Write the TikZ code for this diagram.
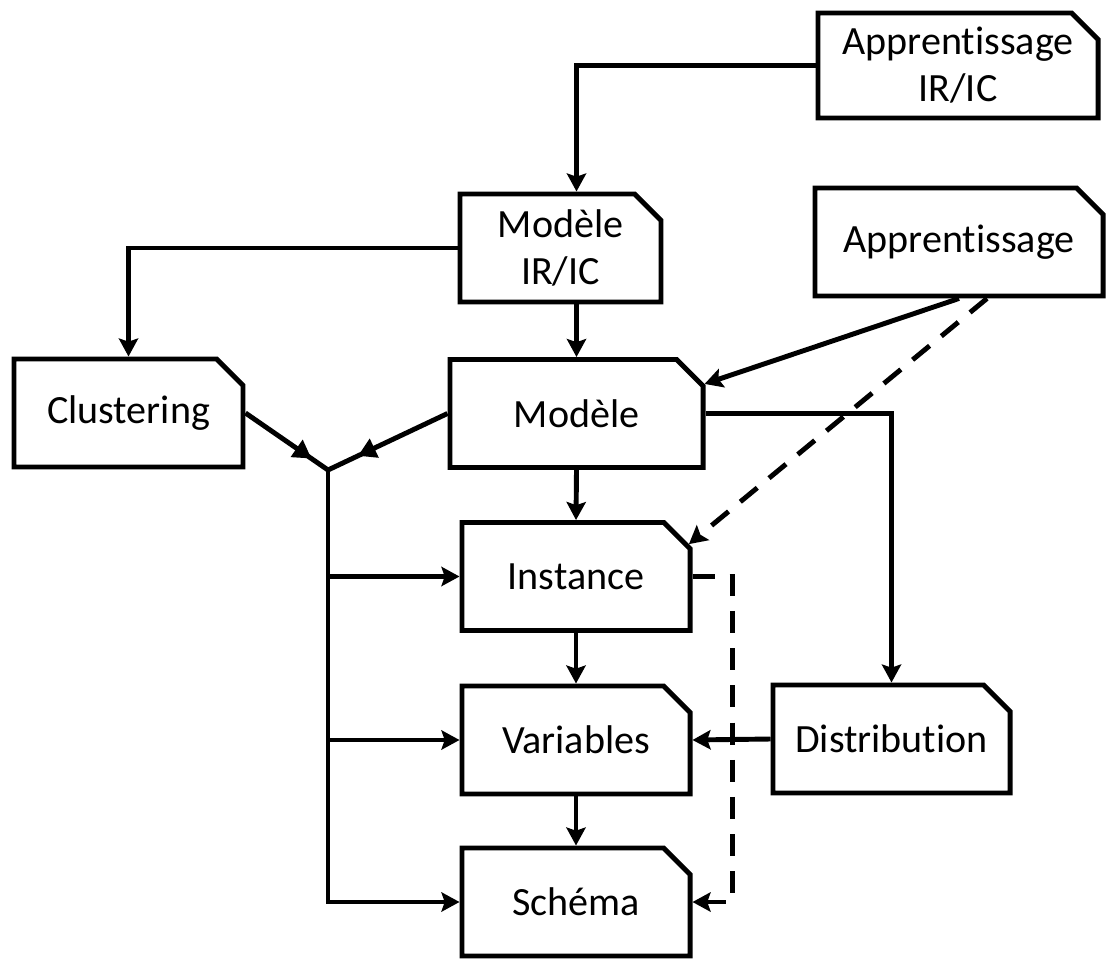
\documentclass[tikz,border=0pt]{standalone}
\usepackage{fontspec}
\setmainfont[Ligatures=NoCommon]{Carlito}
\usetikzlibrary{shapes.misc,arrows.meta,decorations.markings}

\begin{document}
\begin{tikzpicture}[x=0.025cm,y=-0.025cm,
  box/.style={draw, line width=3.5pt, fill=white, chamfered rectangle, chamfered rectangle corners=north east, chamfered rectangle sep=0.33cm, minimum height=2.7cm, inner sep=0pt, align=center, font=\fontsize{28.5}{33.5}\selectfont},
  line/.style={line width=3.5pt},
  arr/.style={line width=3.5pt, -{Stealth[length=0.45cm,width=0.48cm,inset=0.08cm]}},
  dsh/.style={arr, dash pattern=on 0.55cm off 0.38cm},
  mid/.style={line width=3.5pt, postaction={decorate}, decoration={markings, mark=at position #1 with {\arrow{Triangle[length=0.45cm,width=0.5cm]}}}}]
\useasboundingbox (0,0) rectangle (1108,958);
\node[box, minimum width=7cm, minimum height=2.625cm] (appIR) at (958,65.5) {Apprentissage\\IR/IC};
\node[box, minimum width=7.2cm] (app) at (959,242) {Apprentissage};
\node[box, minimum width=5.025cm] (modIR) at (560.5,248) {Modèle\\IR/IC};
\node[box, minimum width=5.725cm] (clus) at (128.5,413) {Clustering};
\node[box, minimum width=6.325cm] (mod) at (576.5,413.5) {Modèle};
\node[box, minimum width=5.7cm] (inst) at (576,576.5) {Instance};
\node[box, minimum width=5.7cm] (var) at (576,740) {Variables};
\node[box, minimum width=5.925cm] (dist) at (891.5,739) {Distribution};
\node[box, minimum width=5.7cm] (sch) at (576,902) {Schéma};
\coordinate (j) at (328,470);

\draw[arr] (appIR.west) -| (modIR.north -| mod.north);
\draw[arr] (modIR.west) -| (clus.north);
\draw[arr] (modIR.south -| mod.north) -- (mod.north);
\draw[arr] (app.south) -- (mod.13);
\draw[dsh] ([xshift=0.7cm]app.south) -- (inst.16);
\draw[arr] (mod.south) -- (inst.north);
\draw[arr] (mod.east) -| (dist.north);
\draw[mid=0.8] (clus.east) -- (j);
\draw[mid=0.75] (mod.west) -- (j);
\draw[arr] (j) |- (sch.west);
\draw[arr] (j |- inst.west) -- (inst.west);
\draw[arr] (j |- var.west) -- (var.west);
\draw[arr] (inst.south) -- (var.north);
\draw[arr] (var.south) -- (sch.north);
\draw[arr] (dist.west) -- (var.east);
\draw[dsh] (inst.east) -- ([xshift=1cm]inst.east) |- (sch.east);
\end{tikzpicture}
\end{document}
